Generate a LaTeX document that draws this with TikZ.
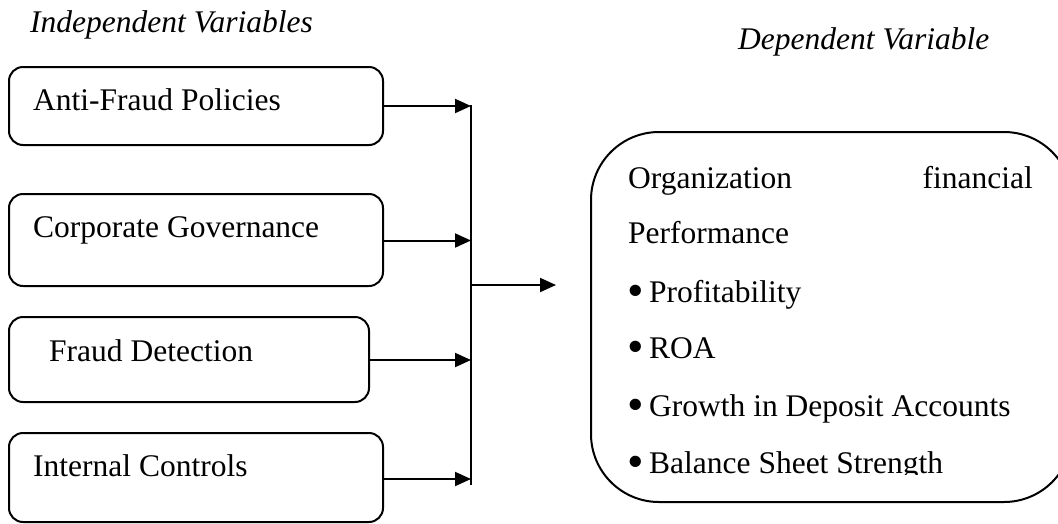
\documentclass[tikz,border=0pt]{standalone}
\usepackage{fontspec}
\setmainfont{Liberation Serif}
\usetikzlibrary{arrows.meta}
\tikzset{
  ivbox/.style={draw, line width=2pt, rounded corners=14pt, inner sep=0pt, minimum width=374pt},
  dvbox/.style={draw, line width=2pt, rounded corners=68pt, inner sep=0pt},
  txt/.style={anchor=base west, inner sep=0pt, font=\fontsize{31.5}{38}\selectfont},
  ttl/.style={txt, font=\fontsize{31.5}{38}\selectfont\itshape},
  conn/.style={line width=2pt, -{Triangle[length=16pt,width=14pt]}},
  bus/.style={line width=2pt}
}
\newcommand{\bul}{\makebox[22pt][l]{\raisebox{-4.5pt}{\scalebox{1.5}{•}}}}
\begin{document}
\begin{tikzpicture}[x=1pt,y=-1pt]
\useasboundingbox (0,0) rectangle (1058,523);
\clip (0,0) rectangle (1058,523);
% titles
\node[ttl] (t1) at (30,32) {Independent Variables};
\node[ttl] (t2) at (738,49) {Dependent Variable};
% independent boxes
\node[ivbox, minimum height=78pt] (b1) at (196,106) {};
\node[ivbox, minimum height=92pt] (b2) at (196,240) {};
\node[ivbox, minimum width=360pt, minimum height=85pt] (b3) at (189,359.5) {};
\node[ivbox, minimum height=89pt] (b4) at (196,477.5) {};
\node[txt] (l1) at (33,110) {Anti-Fraud Policies};
\node[txt] (l2) at (33,237) {Corporate Governance};
\node[txt] (l3) at (49,361) {Fraud Detection};
\node[txt] (l4) at (33,476) {Internal Controls};
% bus
\coordinate (j1) at (471,106);
\coordinate (j2) at (471,240.5);
\coordinate (j3) at (471,360);
\coordinate (j4) at (471,479);
\coordinate (jt) at (471,105);
\coordinate (jb) at (471,485);
\coordinate (jm) at (471,285);
\coordinate (out) at (556,285);
\draw[bus] (jt) -- (jb);
\draw[conn] (b1.east |- j1) -- (j1);
\draw[conn] (b2.east |- j2) -- (j2);
\draw[conn] (b3.east |- j3) -- (j3);
\draw[conn] (b4.east |- j4) -- (j4);
\draw[conn] (jm) -- (out);
% dependent box
\node[dvbox, minimum width=481pt, minimum height=370pt] (d) at (831.5,317) {};
\node[txt] (o1) at (628,188) {Organization};
\node[txt, anchor=base east] (o2) at (1033,188) {financial};
\node[txt] (o3) at (628,243) {Performance};
\node[txt] (p1) at (627,302) {\bul Profitability};
\node[txt] (p2) at (627,358) {\bul ROA};
\node[txt] (p3) at (627,416) {\bul Growth in Deposit Accounts};
\begin{scope}
\clip (600,440) rectangle (1058,474.5);
\node[txt] (p4) at (627,473) {\bul Balance Sheet Strength};
\end{scope}
\end{tikzpicture}
\end{document}
